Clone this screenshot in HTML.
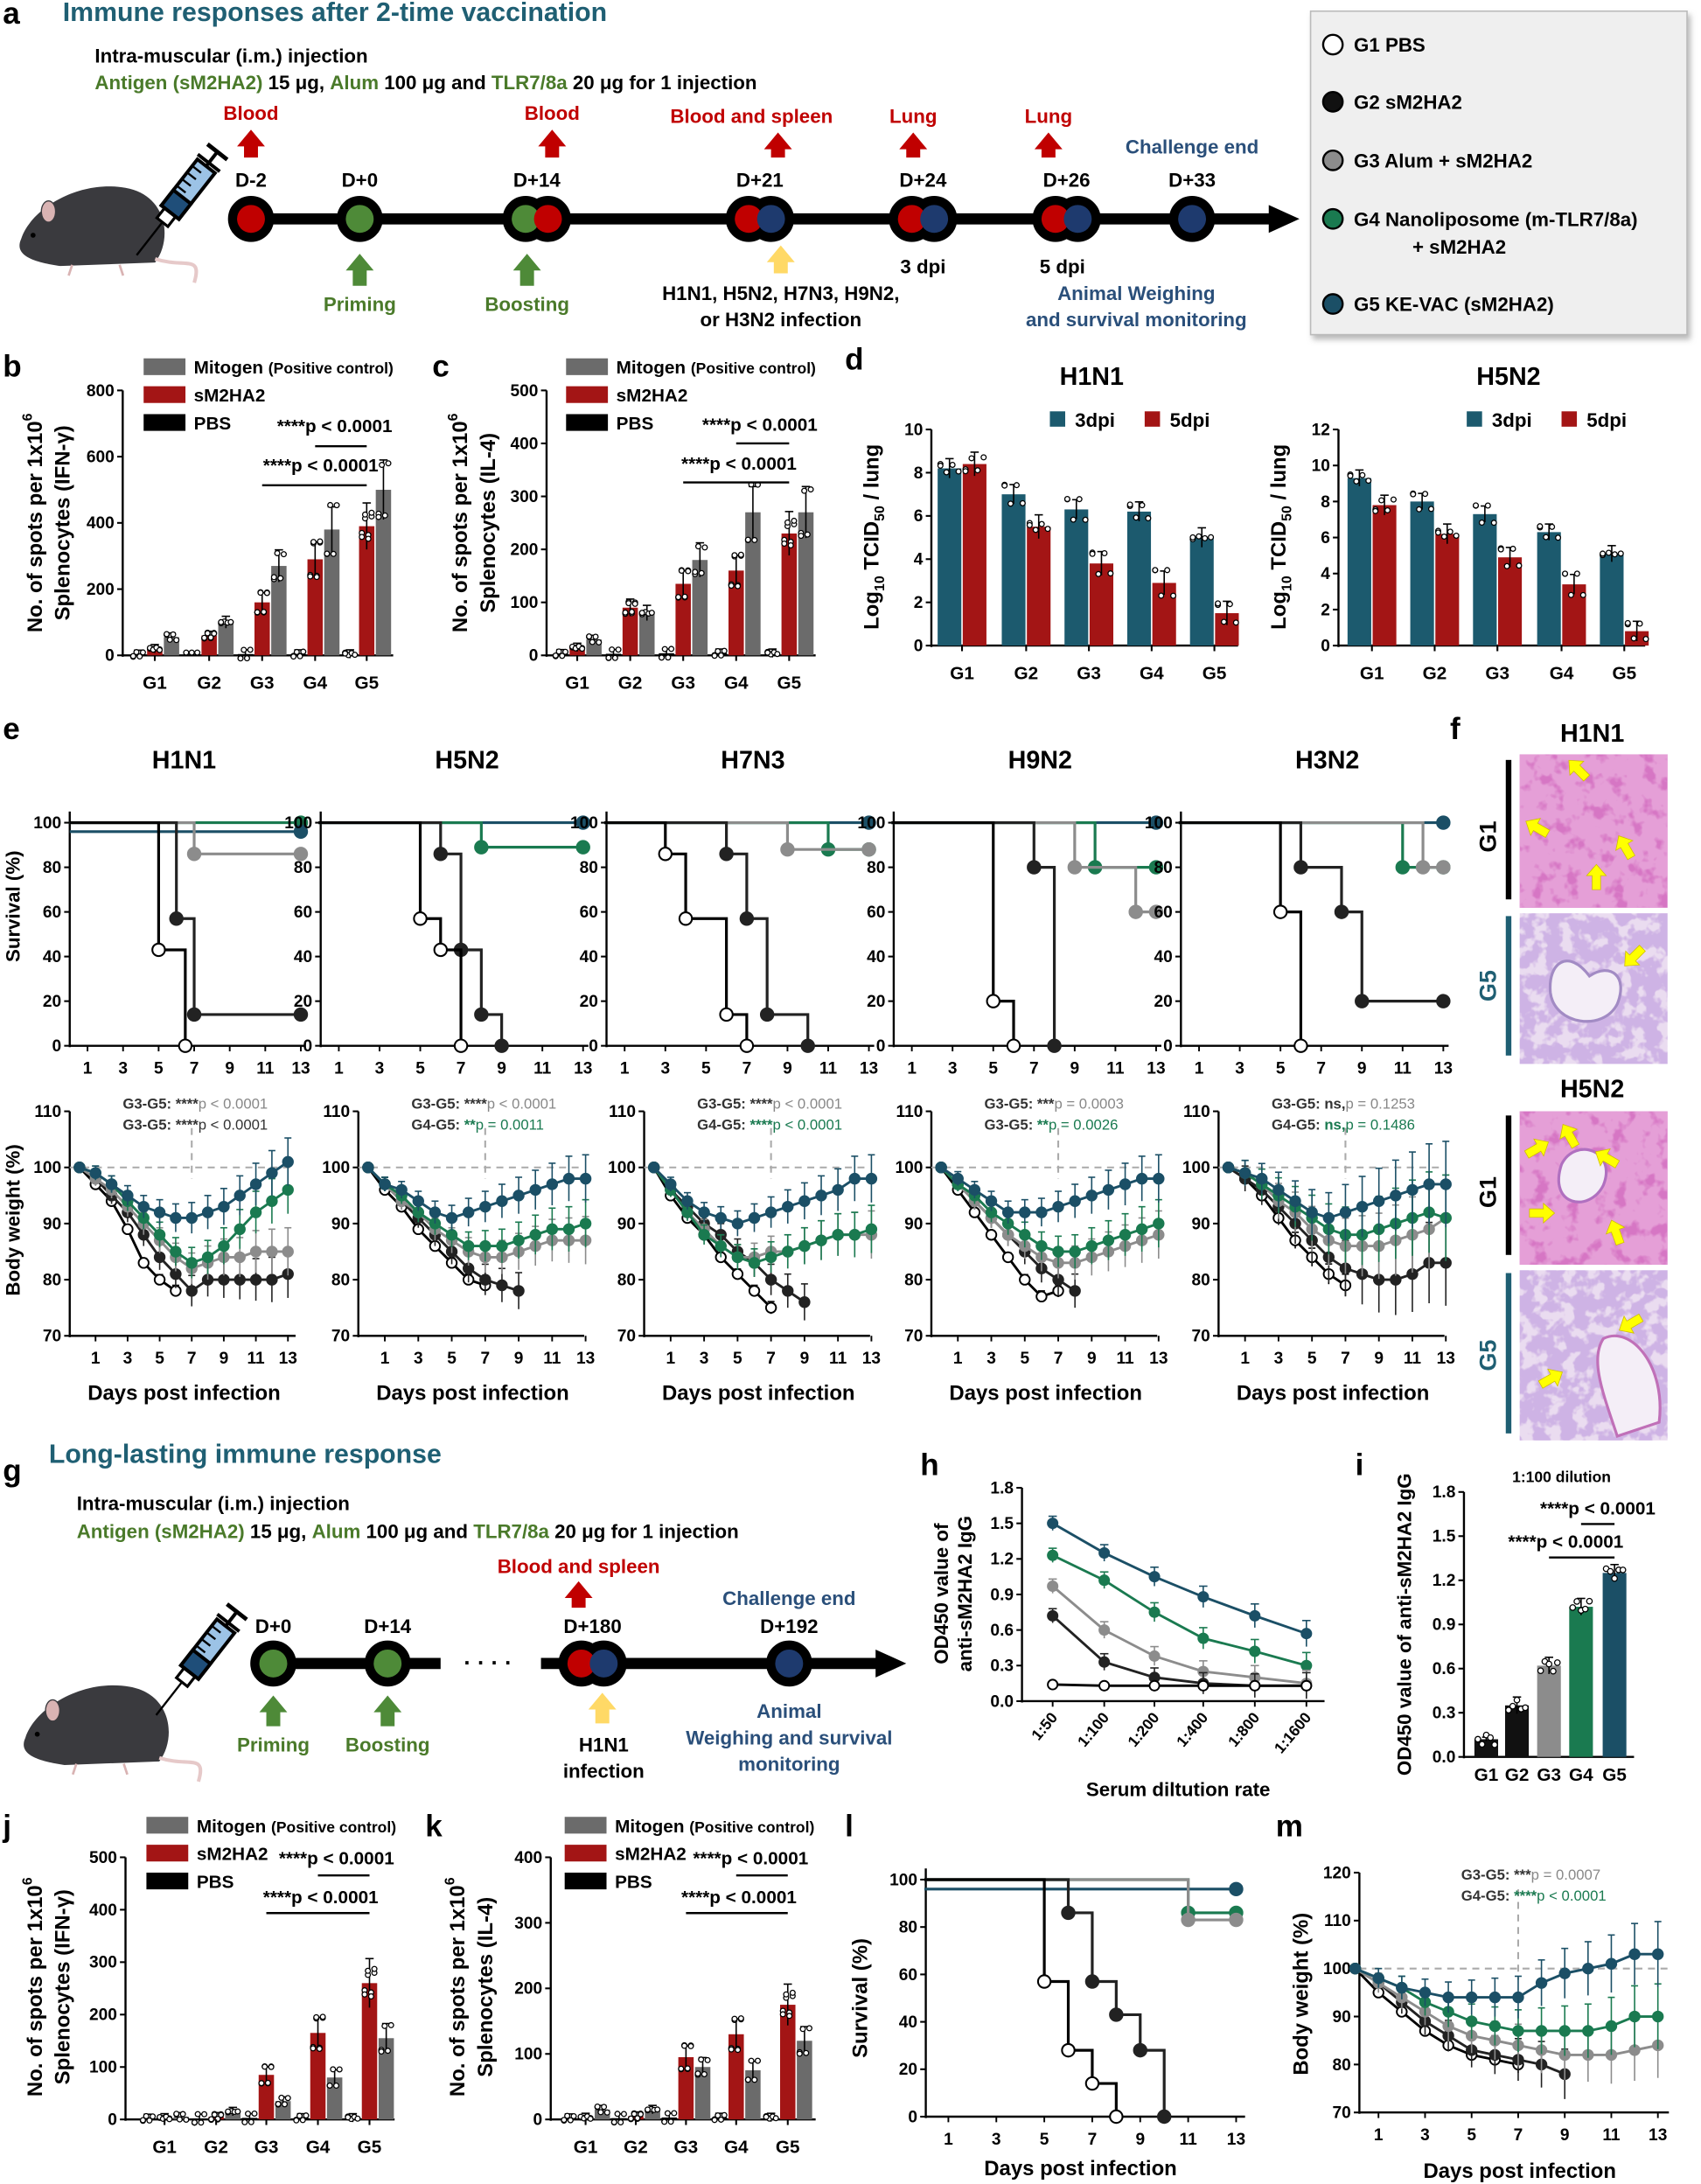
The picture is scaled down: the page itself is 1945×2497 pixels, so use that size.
<!DOCTYPE html>
<html><head><meta charset="utf-8">
<style>
html,body{margin:0;padding:0;background:#fff;}
svg{display:block;}
text{font-family:"Liberation Sans Narrow","Liberation Sans",Arial,sans-serif;font-weight:bold;}
</style></head>
<body>
<svg id="s" width="1945" height="2497" viewBox="0 0 1220 1566.3" xmlns="http://www.w3.org/2000/svg">
<defs>
<filter id="hG1" x="0" y="0" width="100%" height="100%">
<feTurbulence type="fractalNoise" baseFrequency="0.09" numOctaves="3" seed="3"/>
<feColorMatrix type="matrix" values="0 0 0 0 0.78  0 0 0 0 0.35  0 0 0 0 0.68  0 0 0 -6 4.2"/>
<feComposite in2="SourceGraphic" operator="in"/>
</filter>
<filter id="hG5" x="0" y="0" width="100%" height="100%">
<feTurbulence type="fractalNoise" baseFrequency="0.1" numOctaves="3" seed="7"/>
<feColorMatrix type="matrix" values="0 0 0 0 0.62  0 0 0 0 0.45  0 0 0 0 0.78  0 0 0 -7 4.4"/>
<feComposite in2="SourceGraphic" operator="in"/>
</filter>
<filter id="sh"><feDropShadow dx="2" dy="3" stdDeviation="2" flood-color="#888" flood-opacity="0.6"/></filter>
</defs>
<g id="g"></g>
</svg>
<script>
var out='';
var NAV='#1b4f66',GRN='#1a7a50',GRY='#8c8c8c',BLK='#222',RED='#a31515',TEAL='#1f5f73',DG='#4a7a2a',BLUE='#2a4f7a';
function t(x,y,s,o){o=o||{};out+='<text x="'+x+'" y="'+y+'" font-size="'+(o.fs||12)+'" fill="'+(o.c||'#000')+'" text-anchor="'+(o.a||'start')+'"'+(o.fw?' font-weight="'+o.fw+'"':'')+(o.r!==undefined?' transform="rotate('+o.r+' '+x+' '+y+')"':'')+'>'+s+'</text>';}
function l(x1,y1,x2,y2,c,w,d){out+='<line x1="'+x1+'" y1="'+y1+'" x2="'+x2+'" y2="'+y2+'" stroke="'+(c||'#000')+'" stroke-width="'+(w||1.5)+'"'+(d?' stroke-dasharray="'+d+'"':'')+'/>';}
function r(x,y,w,h,f,s,sw){out+='<rect x="'+x+'" y="'+y+'" width="'+w+'" height="'+h+'" fill="'+f+'"'+(s?' stroke="'+s+'" stroke-width="'+(sw||1)+'"':'')+'/>';}
function c(x,y,rad,f,s,sw){out+='<circle cx="'+x+'" cy="'+y+'" r="'+rad+'" fill="'+f+'" stroke="'+(s||'#000')+'" stroke-width="'+(sw||1)+'"/>';}
function p(d,f,s,sw){out+='<path d="'+d+'" fill="'+(f||'none')+'"'+(s?' stroke="'+s+'" stroke-width="'+(sw||1.5)+'"':'')+'/>';}
function arrowUp(x,yTop,yBot,col){var w=5,hw=10,hh=12;p('M'+(x-w)+' '+yBot+' L'+(x-w)+' '+(yTop+hh)+' L'+(x-hw)+' '+(yTop+hh)+' L'+x+' '+yTop+' L'+(x+hw)+' '+(yTop+hh)+' L'+(x+w)+' '+(yTop+hh)+' L'+(x+w)+' '+yBot+' Z',col);}
function node(x,y,cols){ if(cols.length==1){c(x,y,16,'#000','#000',0);c(x,y,10,cols[0],'none',0);} else {c(x-8,y,16,'#000','#000',0);c(x+8,y,16,'#000','#000',0);c(x-8,y,10,cols[0],'none',0);c(x+8,y,10,cols[1],'none',0);} }
function mouse(x,y,s){ 
 out+='<g transform="translate('+x+' '+y+') scale('+s+')">';
 p('M12 25 C20 0 60 -25 100 -18 C135 -12 140 25 125 45 L45 48 C25 45 5 40 12 25 Z','#3a3a3e');
 p('M125 42 C150 50 165 38 158 62','none','#e6c9c9',3);
 out+='<ellipse cx="35" cy="2" rx="6" ry="9" fill="#d9b3b3" stroke="#3a3a3e"/>';
 c(22,22,1.6,'#000','#000',0);
 l(55,47,52,56,'#d9b3b3',2);l(95,47,98,56,'#d9b3b3',2);
 out+='</g>';
}
function syringe(x,y){
 out+='<g transform="translate('+x+' '+y+') rotate(-52)">';
 l(0,0,30,0,'#000',1.5);r(30,-5,9,10,'#fff','#000',2);r(39,-8,42,16,'#9cc3e6','#000',2.5);r(39,-8,14,16,'#1f4e79','#000',2.5);
 for(var i=0;i<4;i++)l(57+i*6,-8,57+i*6,0,'#000',1.5);
 l(81,0,94,0,'#000',2.5);l(94,-9,94,9,'#000',3);l(84,-10,84,10,'#000',2.5);
 out+='</g>';
}
// ================= Panel a =================
t(2,17,'a',{fs:22});
t(45,15,'Immune responses after 2-time vaccination',{fs:19,c:TEAL});
t(68,45,'Intra-muscular (i.m.) injection',{fs:14});
out+='<text x="68" y="64" font-size="14"><tspan fill="'+DG+'">Antigen (sM2HA2)</tspan> 15 μg, <tspan fill="'+DG+'">Alum</tspan> 100 μg and <tspan fill="'+DG+'">TLR7/8a</tspan> 20 μg for 1 injection</text>';
mouse(5,150,0.85);syringe(98,183);
l(165,157,912,157,'#000',8);p('M910 147 L932 157 L910 167 Z','#000');
var nd=[[180,['#c00000'],'D-2'],[258,['#4e8a38'],'D+0'],[385,['#4e8a38','#c00000'],'D+14'],[545,['#c00000','#1e3a6e'],'D+21'],[662,['#c00000','#1e3a6e'],'D+24'],[765,['#c00000','#1e3a6e'],'D+26'],[855,['#1e3a6e'],'D+33']];
nd.forEach(function(n){node(n[0],157,n[1]);t(n[0],134,n[2],{fs:14,a:'middle'});});
t(180,86,'Blood',{fs:14,a:'middle',c:'#c00000'});arrowUp(180,93,113,'#c00000');
t(396,86,'Blood',{fs:14,a:'middle',c:'#c00000'});arrowUp(396,93,113,'#c00000');
t(539,88,'Blood and spleen',{fs:14,a:'middle',c:'#c00000'});arrowUp(558,95,113,'#c00000');
t(655,88,'Lung',{fs:14,a:'middle',c:'#c00000'});arrowUp(655,95,113,'#c00000');
t(752,88,'Lung',{fs:14,a:'middle',c:'#c00000'});arrowUp(752,95,113,'#c00000');
t(855,110,'Challenge end',{fs:14,a:'middle',c:BLUE});
arrowUp(258,182,205,'#4e8a38');t(258,223,'Priming',{fs:14,a:'middle',c:DG});
arrowUp(378,182,205,'#4e8a38');t(378,223,'Boosting',{fs:14,a:'middle',c:DG});
arrowUp(560,176,196,'#ffd966');
t(560,215,'H1N1, H5N2, H7N3, H9N2,',{fs:14,a:'middle'});t(560,234,'or H3N2 infection',{fs:14,a:'middle'});
t(662,196,'3 dpi',{fs:14,a:'middle'});t(762,196,'5 dpi',{fs:14,a:'middle'});
t(815,215,'Animal Weighing',{fs:14,a:'middle',c:BLUE});t(815,234,'and survival monitoring',{fs:14,a:'middle',c:BLUE});
out+='<rect x="940" y="8" width="270" height="232" fill="#efefef" stroke="#bbb" filter="url(#sh)"/>';
var lg=[[32,'#fff','G1 PBS'],[73,'#111','G2 sM2HA2'],[115,'#8c8c8c','G3 Alum + sM2HA2'],[157,GRN,'G4 Nanoliposome (m-TLR7/8a)'],[218,NAV,'G5 KE-VAC  (sM2HA2)']];
lg.forEach(function(e){c(956,e[0],7,e[1],'#000',1.5);t(971,e[0]+5,e[2],{fs:14});});
t(1013,182,'+ sM2HA2',{fs:14});

// ============ bar chart helper ============
function yAxis(ax,y0,y1,ticks,maxv,minv){minv=minv||0;l(ax,y0+1,ax,y1,'#000',1.5);ticks.forEach(function(v){var y=y0-(v-minv)/(maxv-minv)*(y0-y1);l(ax-4,y,ax,y,'#000',1.3);t(ax-6,y+4,v,{fs:12,a:'end'});});}
function bars(ax,y0,y1,maxv,ticks,gx,series,bw,xr){
 yAxis(ax,y0,y1,ticks,maxv);l(ax,y0,xr,y0,'#000',1.5);
 var sc=(y0-y1)/maxv;
 gx.forEach(function(x,i){ series.forEach(function(s){var v=s.v[i];var h=v*sc;var bx=x+s.o-bw/2;
   if(h>0.5){r(bx,y0-h,bw,h,s.c);var e=s.e!==undefined?s.e*sc:Math.max(3,h*0.18);l(bx+bw/2,y0-h-e,bx+bw/2,y0-h+e,'#000',1);l(bx+bw/2-3,y0-h-e,bx+bw/2+3,y0-h-e,'#000',1);
     var n=s.n||5;for(var k=0;k<n;k++){var dy=(Math.sin(i*7+k*3.1+s.o)*0.9)*e*1.2;c(bx+2+(k%4)*(bw-4)/3,y0-h+dy,1.8,'#fff','#000',0.8);} }
   else {for(var k=0;k<3;k++)c(bx+1+k*4,y0-2,1.8,'#fff','#000',0.8);} });
  t(x,y0+24,'G'+(i+1),{fs:13,a:'middle'});
  l(x,y0,x,y0+4,'#000',1.3);});
}
function barLegend(x,y){r(x,y,30,12,'#6b6b6b');out+='<text x="'+(x+36)+'" y="'+(y+11)+'" font-size="13">Mitogen <tspan font-size="11">(Positive control)</tspan></text>';
 r(x,y+20,30,12,RED);t(x+36,y+31,'sM2HA2',{fs:13});r(x,y+40,30,12,'#000');t(x+36,y+51,'PBS',{fs:13});}
function sigT(x,y){out+='<text x="'+x+'" y="'+y+'" font-size="13" text-anchor="middle">****p &lt; 0.0001</text>';}
// Panel b
t(2,270,'b',{fs:22});
bars(88,470,280,800,[0,200,400,600,800],[111,150,188,226,263],[
 {o:-12,c:'#000',v:[3,2,4,4,4]},{o:0,c:RED,v:[20,60,160,290,390],n:8},{o:12,c:'#6b6b6b',v:[55,100,270,380,500]}],11,282);
barLegend(103,257);
l(226,320,263,320);sigT(240,310);l(188,348,263,348);sigT(230,338);
out+='<text transform="translate(30 375) rotate(-90)" font-size="15" text-anchor="middle">No. of spots per 1x10<tspan dy="-7" font-size="10">6</tspan></text>';
t(50,375,'Splenocytes (IFN-γ)',{fs:15,a:'middle',r:-90});
// Panel c
t(310,270,'c',{fs:22});
bars(392,470,280,500,[0,100,200,300,400,500],[414,452,490,528,566],[
 {o:-12,c:'#000',v:[3,3,4,4,4]},{o:0,c:RED,v:[15,90,135,160,230],n:8},{o:12,c:'#6b6b6b',v:[30,80,180,270,270]}],11,585);
barLegend(406,257);
l(528,318,566,318);sigT(545,309);l(490,346,566,346);sigT(530,337);
out+='<text transform="translate(335 375) rotate(-90)" font-size="15" text-anchor="middle">No. of spots per 1x10<tspan dy="-7" font-size="10">6</tspan></text>';
t(355,375,'Splenocytes (IL-4)',{fs:15,a:'middle',r:-90});
// Panel d
t(606,265,'d',{fs:22});
function dchart(ax,maxv,ticks,gx,a,b,title,tx){
 bars(ax,463,308,maxv,ticks,gx,[{o:-9,c:'#1c5a6e',v:a,e:0.45},{o:9,c:RED,v:b,e:0.55}],17,ax+220);
 t(tx,276,title,{fs:18,a:'middle'});
 r(tx-30,295,11,11,'#1c5a6e');t(tx-12,306,'3dpi',{fs:14});r(tx+38,295,11,11,RED);t(tx+56,306,'5dpi',{fs:14});
}
dchart(668,10,[0,2,4,6,8,10],[690,736,781,826,871],[8.2,7.0,6.3,6.2,5.0],[8.4,5.5,3.8,2.9,1.5],'H1N1',783);
out+='<text transform="translate(630 385) rotate(-90)" font-size="15" text-anchor="middle">Log<tspan font-size="10" dy="4">10</tspan><tspan dy="-4"> TCID</tspan><tspan font-size="10" dy="4">50</tspan><tspan dy="-4"> / lung</tspan></text>';
dchart(960,12,[0,2,4,6,8,10,12],[984,1029,1074,1120,1165],[9.3,8.0,7.3,6.3,5.1],[7.8,6.2,4.9,3.4,0.8],'H5N2',1082);
out+='<text transform="translate(922 385) rotate(-90)" font-size="15" text-anchor="middle">Log<tspan font-size="10" dy="4">10</tspan><tspan dy="-4"> TCID</tspan><tspan font-size="10" dy="4">50</tspan><tspan dy="-4"> / lung</tspan></text>';

// ============= Panel e ===============
t(2,530,'e',{fs:22});
var titles=['H1N1','H5N2','H7N3','H9N2','H3N2'];
var sAx=[50,230,435,641,847],sD0=[50,228.4,433.4,639.4,845.4],sP=[12.75,14.6,14.6,14.6,14.6];
var bAx=[50,257,462,668,874];
function survPlot(ax,d0,ppd,y0,y100,xr,curves){
 yAxis(ax,y0,y100,[0,20,40,60,80,100],100);l(ax,y100,ax,y100-8,'#000',1.5);l(ax,y0,xr,y0,'#000',1.5);
 for(var d=1;d<=13;d+=2){var x=d0+d*ppd;l(x,y0,x,y0+4,'#000',1.2);t(x,y0+20,d,{fs:12,a:'middle'});}
 var Y=function(v){return y0-v/100*(y0-y100);},X=function(d){return d0+d*ppd;};
 curves.forEach(function(cv){var col=cv[0],st=cv[1],end=cv[2]||13,base=cv[3]||100;var d='M'+X(0)+' '+Y(base);var cur=base;var pts=[];
  st.forEach(function(s){d+=' L'+X(s[0])+' '+Y(cur)+' L'+X(s[0])+' '+Y(s[1]);cur=s[1];pts.push([X(s[0]),Y(s[1])]);});
  var ed=cur==0?st[st.length-1][0]:end;d+=' L'+X(ed)+' '+Y(cur);if(cur>0)pts.push([X(end),Y(cur)]);
  p(d,'none',col=='#fff'?'#000':col,2);pts.forEach(function(q){c(q[0],q[1],4.5,col,col=='#fff'?'#000':col,1.3);});});
}
var surv=[
 [[GRN,[]],[NAV,[],13,96],[GRY,[[7,86]]],[BLK,[[6,57],[7,14]]],['#fff',[[5,43],[6.5,0]]]],
 [[NAV,[]],[GRN,[[8,89]]],[BLK,[[6,86],[7,43],[8,14],[9,0]]],['#fff',[[5,57],[6,43],[7,0]]]],
 [[NAV,[]],[GRN,[[11,88]]],[GRY,[[9,88]]],[BLK,[[6,86],[7,57],[8,14],[10,0]]],['#fff',[[3,86],[4,57],[6,14],[7,0]]]],
 [[NAV,[]],[GRN,[[10,80]]],[GRY,[[9,80],[12,60]]],[BLK,[[7,80],[8,0]]],['#fff',[[5,20],[6,0]]]],
 [[NAV,[]],[GRN,[[11,80]]],[GRY,[[12,80]]],[BLK,[[6,80],[8,60],[9,20]]],['#fff',[[5,60],[6,0]]]]
];
for(var k=0;k<5;k++){
 var cx=k==0?150:(sAx[k]+100);
 t(k==0?132:cx+5,551,titles[k],{fs:18,a:'middle'});
 survPlot(sAx[k],sD0[k],sP[k],750,590,sAx[k]+(k==0?168:192),surv[k]);
}
t(14,650,'Survival (%)',{fs:14,a:'middle',r:-90});
var bw=[
 {w:[100,97,94,89,83,80,78],b:[100,98,95,92,88,84,81,78,80,80,80,80,80,81],g:[100,98,96,93,90,87,84,82,83,84,84,85,85,85],gr:[100,99,97,94,91,88,85,83,84,86,89,92,94,96],n:[100,99,97,95,93,92,91,91,92,93,95,97,99,101]},
 {w:[100,96,93,89,86,83,80,79],b:[100,97,94,91,88,85,82,80,79,78],g:[100,97,94,92,89,87,85,84,84,85,86,87,87,87],gr:[100,97,95,92,90,88,86,86,86,87,88,89,89,90],n:[100,97,96,94,92,91,92,93,94,95,96,97,98,98]},
 {w:[100,95,91,88,84,81,78,75],b:[100,96,93,90,88,85,83,80,78,76],g:[100,96,92,89,86,84,84,85,85,86,87,88,88,88],gr:[100,96,92,88,86,84,83,84,85,86,87,88,88,89],n:[100,97,94,92,91,90,91,92,93,94,95,96,98,98]},
 {w:[100,96,92,88,84,80,77,78],b:[100,97,94,91,88,85,82,80,78],g:[100,97,94,91,88,86,84,83,83,84,85,86,87,88],gr:[100,97,95,92,90,88,86,85,85,86,87,88,89,90],n:[100,98,96,94,92,92,92,93,94,95,96,97,98,98]},
 {w:[100,98,95,91,87,84,81,79],b:[100,98,96,93,90,87,84,82,81,80,80,81,83,83],g:[100,99,97,94,92,89,87,86,86,86,87,88,89,91],gr:[100,99,97,95,93,91,89,88,88,89,90,91,92,91],n:[100,99,98,96,94,92,91,92,93,94,95,96,97,97]}
];
function bwPlot(ax,d0,ppd,y0,ytop,minv,maxv,ticks,xr,data,errs){
 yAxis(ax,y0,ytop,ticks,maxv,minv);l(ax,y0,xr,y0,'#000',1.5);
 var X=function(d){return d0+d*ppd;},Y=function(v){return y0-(v-minv)/(maxv-minv)*(y0-ytop);};
 for(var d=1;d<=13;d+=2){l(X(d),y0,X(d),y0+4,'#000',1.2);t(X(d),y0+20,d,{fs:12,a:'middle'});}
 l(ax,Y(100),xr,Y(100),'#aaa',1.3,'5,4');l(X(7),ytop+12,X(7),Y(100)+8,'#aaa',1.3,'5,4');
 [['w','#fff'],['b',BLK],['g',GRY],['gr',GRN],['n',NAV]].forEach(function(s){var a=data[s[0]];var col=s[1],sc=col=='#fff'?'#000':col;var d='';
  a.forEach(function(v,i){d+=(i?' L':'M')+X(i)+' '+Y(v);});p(d,'none',sc,1.8);
  a.forEach(function(v,i){if(i>0){var e=(errs||1)*(1+i*0.25)*(s[0]=='w'?0.4:1);l(X(i),Y(v-e),X(i),Y(v+e),sc,1);l(X(i)-2.5,Y(v+e),X(i)+2.5,Y(v+e),sc,1);}
   c(X(i),Y(v),3.6,col,sc,1.2);});});
}
var ann=[['G3-G5:','****','p &lt; 0.0001','G3-G5:','****','p &lt; 0.0001','#888','#333'],['G3-G5:','****','p &lt; 0.0001','G4-G5:','**','p = 0.0011','#888',GRN],['G3-G5:','****','p &lt; 0.0001','G4-G5:','****','p &lt; 0.0001','#888',GRN],['G3-G5:','***','p = 0.0003','G3-G5:','**','p = 0.0026','#888',GRN],['G3-G5:','ns,','p = 0.1253','G4-G5:','ns,','p = 0.1486','#888',GRN]];
for(var k=0;k<5;k++){
 var ax=bAx[k];var ppd=k==0?11.5:12;
 bwPlot(ax,ax+7,ppd,958,797,70,110,[70,80,90,100,110],ax+162,bw[k],k==4?1.8:1);
 var a=ann[k];var x0=ax+38;
 out+='<text x="'+x0+'" y="795" font-size="10.5"><tspan fill="#333">'+a[0]+' '+a[1]+'</tspan><tspan fill="'+a[6]+'" font-weight="normal">'+a[2]+'</tspan></text>';
 out+='<text x="'+x0+'" y="810" font-size="10.5"><tspan fill="#333">'+a[3]+' </tspan><tspan fill="'+a[7]+'">'+a[4]+'</tspan><tspan fill="'+a[7]+'" font-weight="normal">'+a[5]+'</tspan></text>';
 t(ax+82,1004,'Days post infection',{fs:15,a:'middle'});
}
t(14,875,'Body weight (%)',{fs:14,a:'middle',r:-90});

// ============= Panel f ===============
t(1040,530,'f',{fs:22});
t(1142,532,'H1N1',{fs:18,a:'middle'});t(1142,787,'H5N2',{fs:18,a:'middle'});
function histo(y,h,type){
 r(1090,y,106,h,type=='G1'?'#d676c4':'#eadcf0');
 out+='<rect x="1090" y="'+y+'" width="106" height="'+h+'" fill="#fff" filter="url(#h'+type+')"/>';
}
histo(541,110,'G1');histo(655,108,'G5');histo(797,110,'G1');histo(911,122,'G5');
p('M1140 700 C1125 680 1110 690 1112 712 C1115 735 1150 740 1160 720 C1168 700 1155 690 1140 700 Z','#f4eef7','#a28bc4',2);
p('M1120 835 C1130 815 1160 825 1150 850 C1140 870 1110 865 1120 835 Z','#f4eef7','#b070c0',2);
p('M1150 960 C1170 950 1195 980 1190 1020 L1160 1030 C1150 1000 1140 975 1150 960 Z','#f4eef7','#c070b8',2);
function ya(x,y,ang){out+='<g transform="translate('+x+' '+y+') rotate('+ang+')"><path d="M-3 0 L-3 -10 L-7 -10 L0 -18 L7 -10 L3 -10 L3 0 Z" fill="#ffff00" stroke="#d0c000" stroke-width="0.5"/></g>';}
ya(1138,558,-45);ya(1110,598,-60);ya(1145,638,0);ya(1170,615,-30);ya(1178,680,-135);
ya(1095,828,60);ya(1130,822,-30);ya(1160,835,-60);ya(1097,870,90);ya(1162,892,-20);ya(1177,945,-120);ya(1105,993,60);
r(1080,545,4,100,'#000');t(1073,600,'G1',{fs:17,a:'middle',r:-90});
r(1080,657,4,100,TEAL);t(1073,707,'G5',{fs:17,a:'middle',r:-90,c:TEAL});
r(1080,800,4,100,'#000');t(1073,855,'G1',{fs:17,a:'middle',r:-90});
r(1080,913,4,115,TEAL);t(1073,972,'G5',{fs:17,a:'middle',r:-90,c:TEAL});

// ============= Panel g ===============
t(2,1062,'g',{fs:22});
t(35,1049,'Long-lasting immune response',{fs:19,c:TEAL});
t(55,1083,'Intra-muscular (i.m.) injection',{fs:14});
out+='<text x="55" y="1103" font-size="14"><tspan fill="'+DG+'">Antigen (sM2HA2)</tspan> 15 μg, <tspan fill="'+DG+'">Alum</tspan> 100 μg and <tspan fill="'+DG+'">TLR7/8a</tspan> 20 μg for 1 injection</text>';
mouse(8,1225,0.85);syringe(112,1230);
l(180,1193,316,1193,'#000',8);t(350,1198,'· · · ·',{fs:16,a:'middle'});l(388,1193,630,1193,'#000',8);p('M628 1183 L650 1193 L628 1203 Z','#000');
node(196,1193,['#4e8a38']);node(278,1193,['#4e8a38']);node(425,1193,['#c00000','#1e3a6e']);node(566,1193,['#1e3a6e']);
t(196,1171,'D+0',{fs:14,a:'middle'});t(278,1171,'D+14',{fs:14,a:'middle'});t(425,1171,'D+180',{fs:14,a:'middle'});t(566,1171,'D+192',{fs:14,a:'middle'});
t(566,1151,'Challenge end',{fs:14,a:'middle',c:BLUE});
t(415,1128,'Blood and spleen',{fs:14,a:'middle',c:'#c00000'});arrowUp(415,1134,1153,'#c00000');
arrowUp(196,1216,1238,'#4e8a38');t(196,1256,'Priming',{fs:14,a:'middle',c:DG});
arrowUp(278,1216,1238,'#4e8a38');t(278,1256,'Boosting',{fs:14,a:'middle',c:DG});
arrowUp(432,1214,1236,'#ffd966');t(433,1256,'H1N1',{fs:14,a:'middle'});t(433,1275,'infection',{fs:14,a:'middle'});
t(566,1232,'Animal',{fs:14,a:'middle',c:BLUE});t(566,1251,'Weighing and survival',{fs:14,a:'middle',c:BLUE});t(566,1270,'monitoring',{fs:14,a:'middle',c:BLUE});

// ============= Panel h ===============
t(660,1058,'h',{fs:22});
(function(){var ax=733,y0=1220,yt=1067;var sc=(y0-yt)/1.8;l(ax,y0+1,ax,yt,'#000',1.5);
 ['0.0','0.3','0.6','0.9','1.2','1.5','1.8'].forEach(function(s){var y=y0-Number(s)*sc;l(ax-4,y,ax,y,'#000',1.3);t(ax-6,y+4,s,{fs:12,a:'end'});});
 l(ax,y0,950,y0,'#000',1.5);
 var xs=[755,792,828,863,900,937],lab=['1:50','1:100','1:200','1:400','1:800','1:1600'];
 xs.forEach(function(x,i){l(x,y0,x,y0+4,'#000',1.2);t(x+4,y0+12,lab[i],{fs:11,a:'end',r:-50});});
 var Y=function(v){return y0-v*sc;};
 [[NAV,[1.5,1.25,1.05,0.88,0.72,0.57]],[GRN,[1.23,1.02,0.75,0.53,0.42,0.3]],[GRY,[0.97,0.6,0.38,0.25,0.2,0.15]],[BLK,[0.72,0.33,0.2,0.15,0.13,0.13]],['#fff',[0.14,0.13,0.13,0.13,0.13,0.13]]].forEach(function(s){
  var sc2=s[0]=='#fff'?'#000':s[0];var d='';s[1].forEach(function(v,i){d+=(i?' L':'M')+xs[i]+' '+Y(v);});p(d,'none',sc2,1.8);
  s[1].forEach(function(v,i){var e=s[0]=='#fff'?0.01:0.06+i*0.01;l(xs[i],Y(v-e),xs[i],Y(v+e),sc2,1);l(xs[i]-3,Y(v+e),xs[i]+3,Y(v+e),sc2,1);c(xs[i],Y(v),3.5,s[0],sc2,1.2);});});
 t(845,1288,'Serum diltution rate',{fs:14,a:'middle'});
 t(680,1143,'OD450 value of',{fs:14,a:'middle',r:-90});t(697,1143,'anti-sM2HA2 IgG',{fs:14,a:'middle',r:-90});
})();
// ============= Panel i ===============
t(972,1058,'i',{fs:22});
(function(){var ax=1050,y0=1260,yt=1070;var sc=(y0-yt)/1.8;l(ax,y0+1,ax,yt,'#000',1.5);
 [0,0.3,0.6,0.9,1.2,1.5,1.8].forEach(function(v){var y=y0-v*sc;l(ax-4,y,ax,y,'#000',1.3);t(ax-6,y+4,v.toFixed(1),{fs:12,a:'end'});});
 l(ax,y0,1172,y0,'#000',1.5);
 var gx=[1066,1088,1111,1134,1158],v=[0.12,0.35,0.62,1.02,1.25],cl=['#111','#111','#8c8c8c',GRN,NAV];
 gx.forEach(function(x,i){var h=v[i]*sc;r(x-8.5,y0-h,17,h,cl[i]);var e=i==0?1.5:6;l(x,y0-h-e,x,y0-h+e,'#000',1);l(x-3,y0-h-e,x+3,y0-h-e,'#000',1);
  for(var k=0;k<5;k++)c(x-6+k*3,y0-h+Math.sin(k*2+i)*4,2,'#fff','#000',0.8);t(x,y0+17,'G'+(i+1),{fs:13,a:'middle'});});
 t(1120,1063,'1:100 dilution',{fs:11,a:'middle'});
 l(1134,1093,1158,1093);sigT(1146,1086);l(1111,1117,1158,1117);sigT(1123,1110);
 t(1012,1165,'OD450 value of anti-sM2HA2 IgG',{fs:14,a:'middle',r:-90});
})();
// ============= Panel j ===============
t(2,1317,'j',{fs:22});
bars(90,1520,1332,500,[0,100,200,300,400,500],[118,155,191,228,265],[
 {o:-12,c:'#000',v:[2,2,3,3,3]},{o:0,c:RED,v:[3,5,85,165,260],n:8},{o:12,c:'#6b6b6b',v:[5,15,35,80,155]}],11,283);
barLegend(105,1303);
l(228,1345,265,1345);out+='<text x="200" y="1337" font-size="13">****p &lt; 0.0001</text>';
l(191,1372,265,1372);sigT(230,1365);
out+='<text transform="translate(30 1425) rotate(-90)" font-size="15" text-anchor="middle">No. of spots per 1x10<tspan dy="-7" font-size="10">6</tspan></text>';
t(50,1425,'Splenocytes (IFN-γ)',{fs:15,a:'middle',r:-90});
// ============= Panel k ===============
t(305,1317,'k',{fs:22});
bars(395,1520,1332,400,[0,100,200,300,400],[420,456,492,528,565],[
 {o:-12,c:'#000',v:[2,2,3,3,3]},{o:0,c:RED,v:[3,5,95,130,175],n:8},{o:12,c:'#6b6b6b',v:[15,15,80,75,120]}],11,585);
barLegend(405,1303);
l(528,1345,565,1345);out+='<text x="497" y="1337" font-size="13">****p &lt; 0.0001</text>';
l(492,1372,565,1372);sigT(530,1365);
out+='<text transform="translate(333 1425) rotate(-90)" font-size="15" text-anchor="middle">No. of spots per 1x10<tspan dy="-7" font-size="10">6</tspan></text>';
t(353,1425,'Splenocytes (IL-4)',{fs:15,a:'middle',r:-90});
// ============= Panel l ===============
t(606,1317,'l',{fs:22});
survPlot(664,663,17.2,1518,1348,893,[[GRN,[[11,86]]],[NAV,[],13,96],[GRY,[[11,83]]],[BLK,[[6,86],[7,57],[8,43],[9,28],[10,0]]],['#fff',[[5,57],[6,28],[7,14],[8,0]]]]);
t(622,1433,'Survival (%)',{fs:15,a:'middle',r:-90});
t(775,1560,'Days post infection',{fs:15,a:'middle'});
// ============= Panel m ===============
t(915,1317,'m',{fs:22});
bwPlot(975,972,16.7,1515,1343,70,120,[70,80,90,100,110,120],1197,
 {w:[100,95,91,87,84,82,81,80],b:[100,97,93,89,86,83,82,81,80,78],g:[100,97,94,91,88,86,85,84,83,82,82,82,83,84],gr:[100,98,96,93,91,89,88,87,87,87,87,88,90,90],n:[100,98,96,95,94,94,94,94,97,99,100,101,103,103]},1.6);
out+='<text x="1048" y="1348" font-size="10.5"><tspan fill="#333">G3-G5: ***</tspan><tspan fill="#888" font-weight="normal">p = 0.0007</tspan></text>';
out+='<text x="1048" y="1363" font-size="10.5"><tspan fill="#333">G4-G5: </tspan><tspan fill="'+GRN+'">****</tspan><tspan fill="'+GRN+'" font-weight="normal">p &lt; 0.0001</tspan></text>';
t(938,1430,'Body weight  (%)',{fs:15,a:'middle',r:-90});
t(1090,1562,'Days post infection',{fs:15,a:'middle'});

document.getElementById('g').innerHTML=out;
</script>
</body></html>
